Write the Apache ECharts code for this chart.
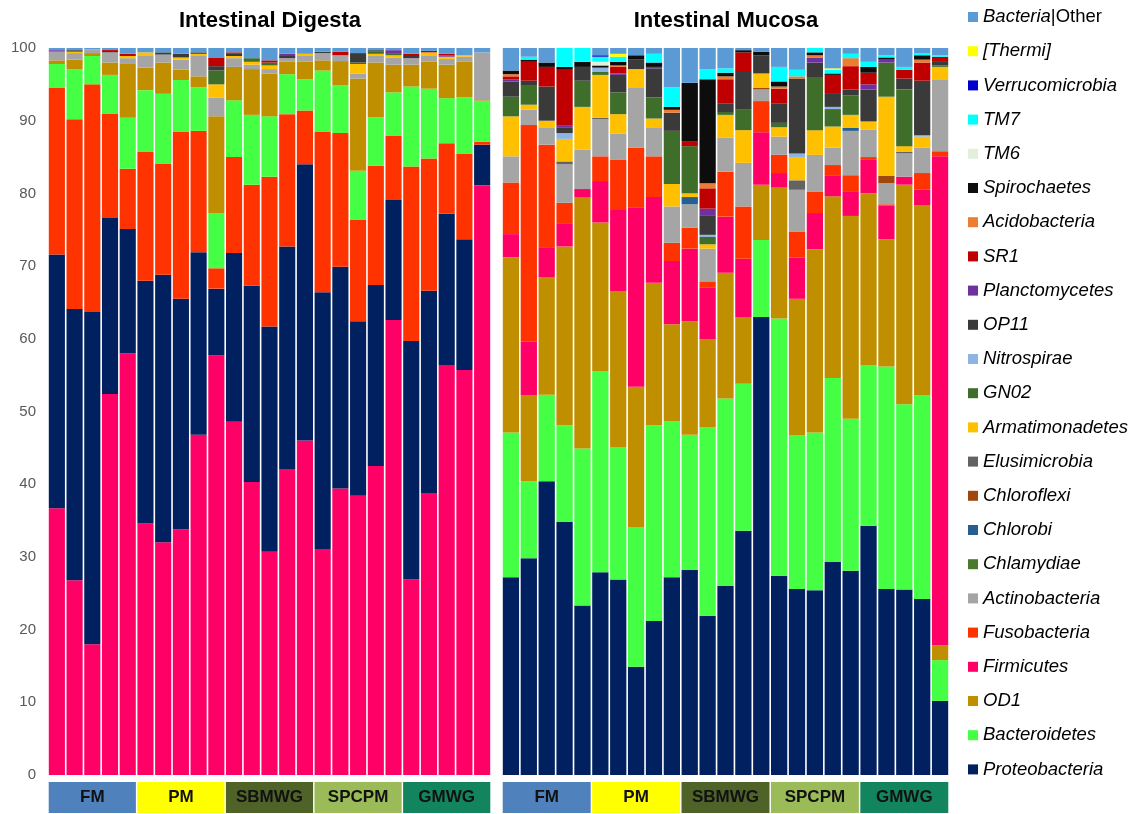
<!DOCTYPE html>
<html><head><meta charset="utf-8">
<script src="https://cdn.jsdelivr.net/npm/echarts@6/dist/echarts.min.js"></script>
<style>html,body{margin:0;padding:0;background:#fff}#c{width:1132px;height:814px}</style>
</head><body><div id="c"></div><script>
// ---------- categories ----------
const groups = ['FM','PM','SBMWG','SPCPM','GMWG'];
const samples = ['FM1','FM2','FM3','FM4','FM5','PM1','PM2','PM3','PM4','PM5',
  'SBMWG1','SBMWG2','SBMWG3','SBMWG4','SBMWG5','SPCPM1','SPCPM2','SPCPM3','SPCPM4','SPCPM5',
  'GMWG1','GMWG2','GMWG3','GMWG4','GMWG5'];
const yTicks = [0,10,20,30,40,50,60,70,80,90,100];

// ---------- Intestinal Digesta (relative abundance, %) ----------
const digFirmicutes      = [36.7,26.8,18.0,52.4,58.0,34.6,32.0,33.8,46.8,57.7,48.6,40.3,30.7,42.1,46.0,31.1,39.4,38.4,42.5,62.6,26.9,38.8,56.4,55.7,81.1];
const digProteobacteria  = [34.9,37.3,45.7,24.2,17.1,33.4,36.8,31.7,25.1,9.2,23.2,27.0,31.0,30.6,38.0,35.3,30.5,24.0,24.9,16.5,32.8,27.8,20.8,18.0,5.6];
const digFusobacteria    = [22.9,26.1,31.3,14.4,8.3,17.7,15.3,23.0,16.7,2.8,13.2,13.9,20.6,18.2,7.4,22.1,18.4,14.0,16.4,8.8,24.0,18.2,9.7,11.8,0.4];
const digBacteroidetes   = [3.3,6.9,3.9,5.3,7.0,8.5,9.6,7.1,6.0,7.6,7.8,9.6,8.3,5.5,4.3,8.4,6.6,6.7,6.7,6.0,11.0,9.6,6.2,7.7,5.6];
const digOD1             = [0.5,1.3,0.4,1.7,7.5,3.1,4.3,1.4,1.5,13.3,4.6,6.3,5.9,1.7,2.4,1.4,3.3,12.7,7.5,3.8,3.0,3.7,4.6,4.9,0.1];
const digActinobacteria  = [1.2,0.9,0.5,1.4,0.7,1.6,1.1,1.4,2.9,2.6,1.2,0.6,0.6,0.5,0.8,1.0,0.8,0.7,0.9,1.0,0.9,0.8,0.8,0.7,6.6];
const digArmatimonadetes = [0,0.2,0,0,0.3,0.5,0,0.3,0.2,1.8,0.3,0.4,0.5,0,0.3,0,0,1.3,0.3,0.3,0,0.5,0.3,0.2,0];
const digGN02            = [0,0,0,0,0,0,0,0,0,1.9,0,0.5,0.4,0,0,0,0,0.2,0.3,0.3,0,0,0,0,0];
const digOP11            = [0,0.2,0,0.2,0,0,0.3,0.5,0.2,0.6,0.3,0,0,0.3,0,0.2,0,1.3,0.2,0,0.3,0,0,0,0];
const digPlanctomycetes  = [0.2,0,0,0,0,0,0,0,0,0,0,0,0,0.3,0,0,0,0,0,0.4,0,0,0.2,0,0];
const digSR1             = [0,0,0,0.2,0.3,0,0,0,0,1.2,0.2,0,0.3,0,0,0,0.5,0,0,0,0.3,0.2,0.2,0,0];
const digOther           = [0.3,0.3,0.2,0.2,0.8,0.6,0.6,0.8,0.6,1.3,0.6,1.4,1.7,0.8,0.8,0.5,0.5,0.7,0.3,0.3,0.8,0.4,0.8,1.0,0.6];

// ---------- Intestinal Mucosa (relative abundance, %) ----------
const mucProteobacteria  = [27.2,29.8,40.4,34.8,23.3,27.9,26.9,14.9,21.2,27.2,28.2,21.9,26.0,33.6,63.0,27.4,25.6,25.4,29.3,28.1,34.3,25.6,25.5,24.2,10.2];
const mucBacteroidetes   = [19.9,10.6,11.9,13.3,21.6,27.6,18.2,19.2,26.9,21.5,18.6,25.9,25.8,20.2,10.6,35.4,21.1,21.7,25.3,20.9,22.1,30.6,25.5,28.0,5.6];
const mucOD1             = [24.1,11.8,16.2,24.6,34.6,20.5,21.4,19.3,19.6,13.3,15.6,12.1,17.3,9.2,7.6,18.0,18.8,25.2,25.0,27.9,23.6,17.5,30.2,26.2,2.0];
const mucFirmicutes      = [3.2,7.4,4.1,3.1,1.1,5.7,11.2,24.7,11.8,8.7,10.0,7.2,7.7,8.0,7.2,2.0,5.7,5.0,2.9,3.3,4.7,4.6,1.1,2.1,67.3];
const mucFusobacteria    = [7.1,29.8,14.1,2.9,0,3.4,6.9,8.2,5.6,2.5,2.9,0.8,6.2,7.2,4.3,2.5,3.5,2.9,1.4,2.3,0.3,0.2,0,2.3,0.7];
const mucActinobacteria  = [3.6,2.1,2.3,5.3,5.4,5.1,3.6,8.3,3.9,5.0,3.2,4.5,4.7,6.0,1.6,2.5,5.8,5.1,2.4,6.1,3.8,2.9,3.2,3.5,9.9];
const mucChlamydiae      = [];
const mucChlorobi        = [0,0,0,0,0,0,0,0,0,0,1.0,0,0,0,0,0,0,0,0,0.4,0,0,0,0,0];
const mucChloroflexi     = [0,0,0,0,0,0,0,0,0,0,0,0,0,0,0.2,0,0,0,0,0,0,1.0,0,0,0];
const mucElusimicrobia   = [0,0,0,0.4,0,0.2,0,0,0,0,0,0,0,0,0,0,1.3,0,0,0,0,0,0.2,0,0];
const mucArmatimonadetes = [5.5,0.7,1.0,3.1,5.9,5.9,2.7,2.5,1.3,3.1,0.5,0.6,3.1,4.5,2.0,1.3,3.2,3.4,2.9,1.8,1.1,10.9,0.8,1.5,1.7];
const mucGN02            = [2.7,2.6,0,0,3.6,0.4,3.0,0,2.9,7.3,6.5,1.0,0.4,2.9,0,0.6,0,7.2,2.4,2.7,0,4.7,7.8,0,0.2];
const mucNitrospirae     = [0,0,0,0.8,0,0.6,0,0,0,0,0,0.3,0,0,0,0,0.5,0,0.3,0,0,0,0,0.2,0];
const mucOP11            = [2.1,0.7,4.7,0.8,1.9,0,2.4,1.3,4.0,2.5,0,2.7,1.2,5.1,2.5,2.7,10.3,2.1,1.9,0.8,4.4,0,1.5,7.5,0.6];
const mucPlanctomycetes  = [0.3,0,0,0.3,0,0,0.2,0,0.2,0,0,0.9,0,0,0,0,0,0.7,0,0,0.7,0.4,0,0,0];
const mucSR1             = [0.4,2.6,2.7,7.7,0,0,0.9,0,0,0,0.7,2.8,3.3,2.7,0,2.0,0,0,2.5,3.2,1.6,0,1.2,2.5,0.6];
const mucAcidobacteria   = [0.3,0,0,0,0,0,0.2,0,0,0.4,0,0.7,0.4,0,0,0.3,0.3,0.3,0,1.1,0,0,0,0.4,0];
const mucSpirochaetes    = [0.5,0.3,0.6,0.3,0.7,0.3,0.5,0.6,0.6,0.4,8.0,14.3,0.5,0.3,0.5,0.7,0,0.4,0.2,0,0.8,0.3,0,0.6,0];
const mucTM6             = [0,0,0,0,0,0.5,0,0,0,0,0,0,0,0,0,0,0,0,0,0,0,0,0,0,0];
const mucTM7             = [0,0.4,0,2.6,1.9,0.7,0.7,0,1.2,2.7,0,1.4,0.6,0,0,2.0,0.9,0.6,0.5,0.6,0.7,0.3,0.4,0.3,0.2];
const mucVerrucomicrobia = [0,0,0,0,0,0.2,0,0,0,0,0,0,0,0,0,0,0,0,0,0,0,0,0,0,0];
const mucThermi          = [0,0,0,0,0,0,0.4,0,0,0,0,0,0,0,0,0,0,0,0.2,0,0,0,0,0,0];
const mucOther           = [3.1,1.2,2.0,0,0,1.0,0.8,1.0,0.8,5.4,4.8,2.9,2.8,0.3,0.5,2.6,3.0,0,2.8,0.8,1.9,1.0,2.6,0.7,1.2];

// ---------- styling ----------
const colors = {
  'Bacteria|Other':'#5B9BD5','[Thermi]':'#FFFF00','Verrucomicrobia':'#0000CC','TM7':'#00FFFF',
  'TM6':'#E2EFDA','Spirochaetes':'#0D0D0D','Acidobacteria':'#ED7D31','SR1':'#C00000',
  'Planctomycetes':'#7030A0','OP11':'#3A3A3A','Nitrospirae':'#8DB4E2','GN02':'#3F6E2A',
  'Armatimonadetes':'#FFC000','Elusimicrobia':'#636363','Chloroflexi':'#9E480E','Chlorobi':'#255E91',
  'Chlamydiae':'#4A7A2B','Actinobacteria':'#A5A5A5','Fusobacteria':'#FF3300','Firmicutes':'#FF0066',
  'OD1':'#BF8F00','Bacteroidetes':'#44FF44','Proteobacteria':'#002060'
};
const groupColors = ['#4F81BD','#FFFF00','#4F6228','#9BBB59','#12855F'];
const legendOrder = ['Bacteria|Other','[Thermi]','Verrucomicrobia','TM7','TM6','Spirochaetes','Acidobacteria','SR1',
  'Planctomycetes','OP11','Nitrospirae','GN02','Armatimonadetes','Elusimicrobia','Chloroflexi','Chlorobi',
  'Chlamydiae','Actinobacteria','Fusobacteria','Firmicutes','OD1','Bacteroidetes','Proteobacteria'];

const digestaStack = [
  ['Firmicutes',digFirmicutes],['Proteobacteria',digProteobacteria],['Fusobacteria',digFusobacteria],
  ['Bacteroidetes',digBacteroidetes],['OD1',digOD1],['Actinobacteria',digActinobacteria],
  ['Armatimonadetes',digArmatimonadetes],['GN02',digGN02],['OP11',digOP11],
  ['Planctomycetes',digPlanctomycetes],['SR1',digSR1],['Bacteria|Other',digOther]
];
const mucosaStack = [
  ['Proteobacteria',mucProteobacteria],['Bacteroidetes',mucBacteroidetes],['OD1',mucOD1],
  ['Firmicutes',mucFirmicutes],['Fusobacteria',mucFusobacteria],['Actinobacteria',mucActinobacteria],
  ['Chlamydiae',mucChlamydiae],['Chlorobi',mucChlorobi],['Chloroflexi',mucChloroflexi],
  ['Elusimicrobia',mucElusimicrobia],['Armatimonadetes',mucArmatimonadetes],['GN02',mucGN02],
  ['Nitrospirae',mucNitrospirae],['OP11',mucOP11],['Planctomycetes',mucPlanctomycetes],['SR1',mucSR1],
  ['Acidobacteria',mucAcidobacteria],['Spirochaetes',mucSpirochaetes],['TM6',mucTM6],['TM7',mucTM7],
  ['Verrucomicrobia',mucVerrucomicrobia],['[Thermi]',mucThermi],['Bacteria|Other',mucOther]
];

const FONT = '"Liberation Sans", Arial, sans-serif';
const series = [];
function addStack(list, axisIdx, stackName){
  list.forEach(([name, data]) => {
    series.push({
      type:'bar', name, stack:stackName, xAxisIndex:axisIdx, yAxisIndex:axisIdx,
      data, barCategoryGap:'9%', itemStyle:{color:colors[name]}, emphasis:{disabled:true}
    });
  });
}
addStack(digestaStack, 0, 'dig');
addStack(mucosaStack, 1, 'muc');
[2,3].forEach(idx => {
  series.push({
    type:'bar', name:'group'+idx, xAxisIndex:idx, yAxisIndex:idx, silent:true,
    barCategoryGap:'1.6%',
    data: groups.map((g,i) => ({value:1, itemStyle:{color:groupColors[i]}})),
    label:{show:true, position:'inside', formatter:'{b}', color:'#111',
      fontFamily:'"Liberation Sans Narrow","Arial Narrow",' + FONT, fontWeight:'bold', fontSize:17}
  });
});

const option = {
  animation:false,
  backgroundColor:'#fff',
  graphic:[
    {type:'text', x:270, y:21, style:{text:'Intestinal Digesta', font:'bold 22px ' + FONT, fill:'#000', textAlign:'center', textVerticalAlign:'middle'}},
    {type:'text', x:726, y:21, style:{text:'Intestinal Mucosa', font:'bold 22px ' + FONT, fill:'#000', textAlign:'center', textVerticalAlign:'middle'}}
  ],
  legend:{
    data:legendOrder, orient:'vertical', left:963, top:2, icon:'rect',
    itemWidth:10, itemHeight:10, itemGap:14.2, selectedMode:true,
    textStyle:{fontFamily:FONT, fontSize:18.5, fontStyle:'italic', color:'#000', lineHeight:20,
      rich:{i:{fontStyle:'italic', fontSize:18.5, fontFamily:FONT, color:'#000'}, n:{fontStyle:'normal', fontSize:18.5, fontFamily:FONT, color:'#000'}}},
    formatter: name => name === 'Bacteria|Other' ? '{i|Bacteria}{n||Other}' : name
  },
  grid:[
    {left:48, width:443, top:48, height:727},
    {left:502, width:447, top:48, height:727},
    {left:48, width:443, top:782, height:31},
    {left:502, width:447, top:782, height:31}
  ],
  xAxis:[
    {type:'category', gridIndex:0, data:samples, show:false},
    {type:'category', gridIndex:1, data:samples, show:false},
    {type:'category', gridIndex:2, data:groups, show:false},
    {type:'category', gridIndex:3, data:groups, show:false}
  ],
  yAxis:[
    {type:'value', gridIndex:0, min:yTicks[0], max:yTicks[yTicks.length-1], interval:10,
      splitLine:{show:false}, axisLine:{show:false}, axisTick:{show:false},
      axisLabel:{color:'#595959', fontSize:15, fontFamily:FONT, margin:12}},
    {type:'value', gridIndex:1, min:0, max:100, interval:10, show:false, splitLine:{show:false}},
    {type:'value', gridIndex:2, min:0, max:1, show:false},
    {type:'value', gridIndex:3, min:0, max:1, show:false}
  ],
  series
};
const chart = echarts.init(document.getElementById('c'), null, {renderer:'canvas'});
chart.setOption(option);
</script></body></html>
